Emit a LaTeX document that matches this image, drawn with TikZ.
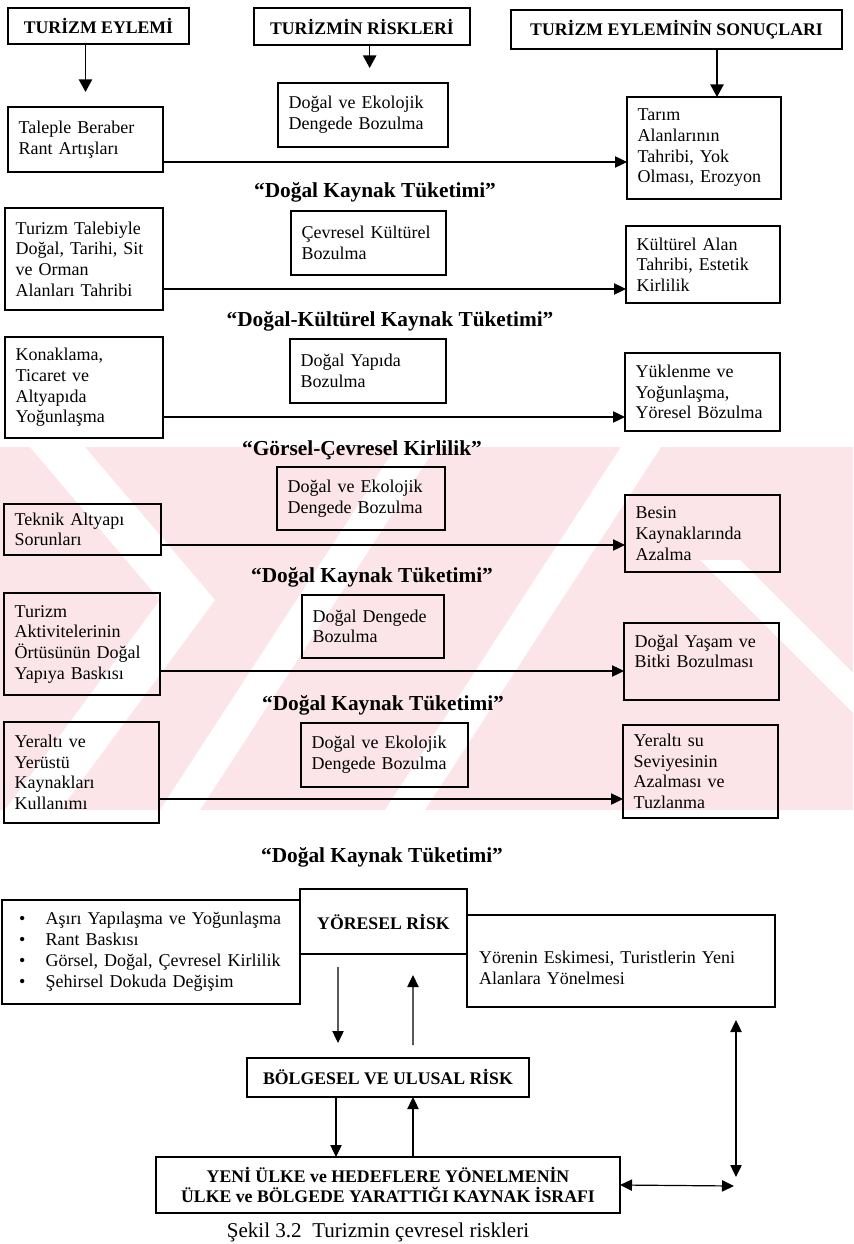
\documentclass[tikz,border=0pt]{standalone}
\usepackage{fontspec}
\setmainfont{Liberation Serif}
\usetikzlibrary{arrows.meta,positioning}

\definecolor{wmpink}{RGB}{251,229,232}

\begin{document}
\begin{tikzpicture}[
        x=0.75pt, y=-0.75pt,
        every node/.style={inner sep=0pt, outer sep=0pt},
        box/.style={draw, line width=0.95pt, align=left, inner xsep=8pt, font=\fontsize{13.5}{15.5}\selectfont},
        headbox/.style={draw, line width=1.5pt, align=center, font=\fontsize{13.3}{15}\selectfont\bfseries},
        riskbox/.style={draw, line width=0.95pt, align=center, font=\fontsize{13.3}{15}\selectfont\bfseries},
        tag/.style={font=\fontsize{16}{19}\selectfont\bfseries},
        arr/.style={line width=0.9pt, -{Triangle[length=9pt,width=8.5pt]}},
        harr/.style={line width=1.2pt, -{Triangle[length=9.5pt,width=10pt]}},
        darr/.style={line width=0.9pt, {Triangle[length=9pt,width=8.5pt]}-{Triangle[length=9pt,width=8.5pt]}}
    ]
    \useasboundingbox (0,0) rectangle (853,1244);

    % watermark
    \begin{scope}
      \clip (0,447) rectangle (853,810);
      \fill[wmpink] (0,447) rectangle (853,810);
      \fill[white] (30,447) -- (85,447) -- (215,600) -- (60,810) -- (5,810) -- (160,600) -- cycle;
      \fill[white] (160,810) -- (200,810) -- (436,447) -- (396,447) -- cycle;
      \fill[white] (385,810) -- (425,810) -- (661,447) -- (621,447) -- cycle;
      \fill[white] (700,560) -- (740,560) -- (853,673) -- (853,713) -- cycle;
    \end{scope}

    % Headers
    \node[headbox, minimum width=135.75pt, minimum height=27pt] (eylem) at (98.5,26) {TURİZM EYLEMİ};
    \node[headbox, minimum width=162pt, minimum height=27.75pt] (riskler) at (362,26.5) {TURİZMİN RİSKLERİ};
    \node[headbox, minimum width=248.25pt, minimum height=29.25pt] (sonuc) at (676.5,29.5) {TURİZM EYLEMİNİN SONUÇLARI};

    % Row 1
    \node[box, text width=100.25pt, minimum height=48.75pt] (taleple) at (85.5,139.5) {Taleple Beraber\\Rant Artışları};
    \node[box, text width=111.5pt, minimum height=48pt] (ekoloji1) at (363,115) {Doğal ve Ekolojik\\Dengede Bozulma};
    \node[box, text width=99.5pt, minimum height=76.5pt] (tarim) at (704,148) {Tarım\\Alanlarının\\Tahribi, Yok\\Olması, Erozyon};
    \node[tag] (kaynak1) at (375,192) {“Doğal Kaynak Tüketimi”};

    % Row 2
    \node[box, text width=102.5pt, minimum height=76.5pt] (talep) at (84,259) {Turizm Talebiyle\\Doğal, Tarihi, Sit\\ve Orman\\Alanları Tahribi};
    \node[box, text width=100.25pt, minimum height=48pt] (cevre) at (368.5,243) {Çevresel Kültürel\\Bozulma};
    \node[box, text width=99.5pt, minimum height=57.75pt] (kultur) at (703,264.5) {Kültürel Alan\\Tahribi, Estetik\\Kirlilik};
    \node[tag] (dogalkultur) at (390,321) {“Doğal-Kültürel Kaynak Tüketimi”};

    % Row 3
    \node[box, text width=102.5pt, minimum height=75.75pt] (konak) at (84,387.5) {Konaklama,\\Ticaret ve\\Altyapıda\\Yoğunlaşma};
    \node[box, text width=101pt, minimum height=48pt] (yapi) at (368,371) {Doğal Yapıda\\Bozulma};
    \node[box, text width=100.25pt, minimum height=58.5pt] (yuk) at (702.5,392) {Yüklenme ve\\Yoğunlaşma,\\Yöresel Bözulma};
    \node[tag] (gorsel) at (362,450) {“Görsel-Çevresel Kirlilik”};

    % Row 4
    \node[box, text width=101.75pt, minimum height=38.25pt] (teknik) at (82.5,529.5) {Teknik Altyapı\\Sorunları};
    \node[box, text width=110pt, minimum height=47.25pt] (ekoloji2) at (361,498.5) {Doğal ve Ekolojik\\Dengede Bozulma};
    \node[box, text width=100.25pt, minimum height=57.75pt] (besin) at (702.5,533.5) {Besin\\Kaynaklarında\\Azalma};
    \node[tag] (kaynak2) at (372,577) {“Doğal Kaynak Tüketimi”};

    % Row 5
    \node[box, text width=101pt, minimum height=76.5pt] (aktivite) at (82,644) {Turizm\\Aktivitelerinin\\Örtüsünün Doğal\\Yapıya Baskısı};
    \node[box, text width=90.5pt, minimum height=47.25pt] (denge) at (373,626.5) {Doğal Dengede\\Bozulma};
    \node[box, text width=100.25pt, minimum height=57.75pt] (yasam) at (701.5,661.5) {Doğal Yaşam ve\\Bitki Bozulması\\~};
    \node[tag] (kaynak3) at (383,705) {“Doğal Kaynak Tüketimi”};

    % Row 6
    \node[box, text width=100.25pt, minimum height=75.75pt] (yeralti) at (81.5,772.5) {Yeraltı ve\\Yerüstü\\Kaynakları\\Kullanımı};
    \node[box, text width=109.25pt, minimum height=48pt] (ekoloji3) at (384.5,755) {Doğal ve Ekolojik\\Dengede Bozulma};
    \node[box, text width=100.25pt, minimum height=69.75pt] (yeraltisu) at (700.5,771.5) {Yeraltı su\\Seviyesinin\\Azalması ve\\Tuzlanma};
    \node[tag] (kaynak4) at (382,857) {“Doğal Kaynak Tüketimi”};

    % Bottom part
    \node[box, inner xsep=12.75pt, text width=198pt, minimum height=78pt, font=\fontsize{13.5}{15.75}\selectfont] (etken) at (151,952)
      {\textbullet\hspace{15.3pt}Aşırı Yapılaşma ve Yoğunlaşma\\
       \textbullet\hspace{15.3pt}Rant Baskısı\\
       \textbullet\hspace{15.3pt}Görsel, Doğal, Çevresel Kirlilik\\
       \textbullet\hspace{15.3pt}Şehirsel Dokuda Değişim};
    \node[riskbox, minimum width=125.25pt, minimum height=48.75pt] (yoresel) at (383.5,921.5) {YÖRESEL RİSK};
    \node[box, inner xsep=9pt, text width=213pt, minimum height=69pt] (eskime) at (621,961) {\rule{0pt}{20pt}Yörenin Eskimesi, Turistlerin Yeni\\Alanlara Yönelmesi};
    \node[riskbox, minimum width=211.5pt, minimum height=29.25pt] (bolgesel) at (388,1077.5) {BÖLGESEL VE ULUSAL RİSK};
    \node[riskbox, minimum width=348pt, minimum height=42pt] (israf) at (388,1185) {YENİ ÜLKE ve HEDEFLERE YÖNELMENİN\\ÜLKE ve BÖLGEDE YARATTIĞI KAYNAK İSRAFI};
    \node[font=\fontsize{15.8}{18}\selectfont] (sekil) at (378,1232) {Şekil 3.2~~Turizmin çevresel riskleri};

    % Arrows from headers
    \draw[harr, shorten >=11.25pt] (eylem.south -| taleple.north) -- (taleple.north);
    \draw[harr, shorten >=11.25pt] ([xshift=5pt]riskler.south -| ekoloji1.north) -- ([xshift=5pt]ekoloji1.north);
    \draw[harr] ([xshift=9.75pt]tarim.north |- sonuc.south) -- ([xshift=9.75pt]tarim.north);

    % Row arrows
    \coordinate (a1) at ([yshift=-16.875pt]taleple.east);
    \coordinate (a2) at ([yshift=-22.5pt]talep.east);
    \coordinate (a3) at ([yshift=-22.125pt]konak.east);
    \coordinate (a4) at ([yshift=-11.625pt]teknik.east);
    \coordinate (a5) at ([yshift=-20.25pt]aktivite.east);
    \coordinate (a6) at ([yshift=-19.875pt]yeralti.east);
    \draw[arr] (a1) -- (a1 -| tarim.west);
    \draw[arr] (a2) -- (a2 -| kultur.west);
    \draw[arr] (a3) -- (a3 -| yuk.west);
    \draw[arr] (a4) -- (a4 -| besin.west);
    \draw[arr] (a5) -- (a5 -| yasam.west);
    \draw[arr] (a6) -- (a6 -| yeraltisu.west);

    % Risk arrows
    \draw[arr] ([xshift=-34.1pt,yshift=-9.75pt]yoresel.south) -- ([xshift=-37.5pt,yshift=11.25pt]bolgesel.north);
    \draw[arr] ([xshift=18.75pt,yshift=9.75pt]bolgesel.north) -- ([xshift=22.1pt,yshift=-15.75pt]yoresel.south);
    \draw[arr] ([xshift=-39pt]bolgesel.south) -- ([xshift=-39pt]israf.north);
    \draw[arr] ([xshift=18.75pt]israf.north) -- ([xshift=18.75pt]bolgesel.south);
    \coordinate (hend) at (734,1186);
    \coordinate (vend) at (736,1177);
    \draw[darr] (israf.east) -- (hend);
    \draw[darr] ([xshift=86.25pt,yshift=-9.75pt]eskime.south) -- (vend);

\end{tikzpicture}
\end{document}
